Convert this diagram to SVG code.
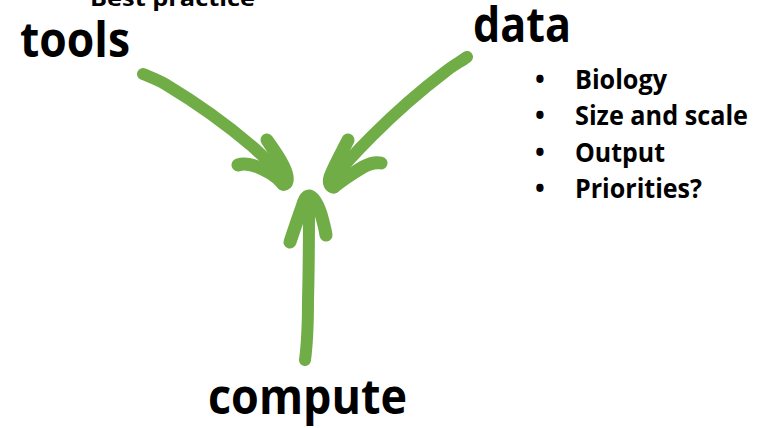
<svg xmlns="http://www.w3.org/2000/svg" width="761" height="428" viewBox="0 0 761 428">
  <style>
    .lbl { font-family: "Open Sans", "Liberation Sans", sans-serif; font-weight: bold; fill: #000; }
    .big { font-size: 48px; }
    .item { font-size: 26px; }
    .arrow { fill: none; stroke: #70AD47; stroke-width: 12; stroke-linecap: round; stroke-linejoin: round; }
    .head { stroke-width: 13; }
  </style>
  <rect width="761" height="428" fill="#fff"/>

  <g id="best-practice">
    <text class="lbl" x="90" y="6" font-size="22" textLength="165" lengthAdjust="spacingAndGlyphs">Best practice</text>
  </g>

  <g id="tools">
    <text class="lbl big" x="20" y="57" textLength="110" lengthAdjust="spacingAndGlyphs">tools</text>
  </g>

  <g id="data">
    <text class="lbl big" x="473" y="42" textLength="98" lengthAdjust="spacingAndGlyphs">data</text>
    <g class="lbl item">
      <text x="535" y="89">•</text>
      <text x="575" y="89" textLength="92" lengthAdjust="spacingAndGlyphs">Biology</text>
      <text x="535" y="125">•</text>
      <text x="575" y="125" textLength="173" lengthAdjust="spacingAndGlyphs">Size and scale</text>
      <text x="535" y="162">•</text>
      <text x="575" y="162" textLength="90" lengthAdjust="spacingAndGlyphs">Output</text>
      <text x="535" y="198">•</text>
      <text x="575" y="198" textLength="127" lengthAdjust="spacingAndGlyphs">Priorities?</text>
    </g>
  </g>

  <g id="compute">
    <text class="lbl big" x="208" y="414" textLength="199" lengthAdjust="spacingAndGlyphs">compute</text>
  </g>

  <g id="connectors">
    <!-- from tools -->
    <path class="arrow" d="M143,74 C150,77 158,80 165,84 C195,102 225,123 253,147 C265,158 278,170 286,181"/>
    <path class="arrow head" d="M267,140 C275,152 285,165 287,176 C288,182 286,185 283,184"/>
    <path class="arrow head" d="M238,165 C244,163 250,164 258,167 C267,171 276,175 283,184"/>
    <!-- from data -->
    <path class="arrow" d="M467,57 C460,62 452,66 445,72 C420,91 395,113 372,136 C357,151 343,166 331,181"/>
    <path class="arrow head" d="M348,140 C342,152 334,166 330,177 C328,184 331,187 334,187"/>
    <path class="arrow head" d="M381,163 C376,162 370,163 363,167 C353,173 343,179 334,187"/>
    <!-- from compute -->
    <path class="arrow" d="M305,360 C307,345 308,325 308,300 C309,265 309,232 309,200"/>
    <path class="arrow head" d="M290,242 C294,230 298,218 302,207 C304,200 306,196 309,196 C314,196 318,205 321,214 C323,221 325,228 326,235"/>
  </g>
</svg>
